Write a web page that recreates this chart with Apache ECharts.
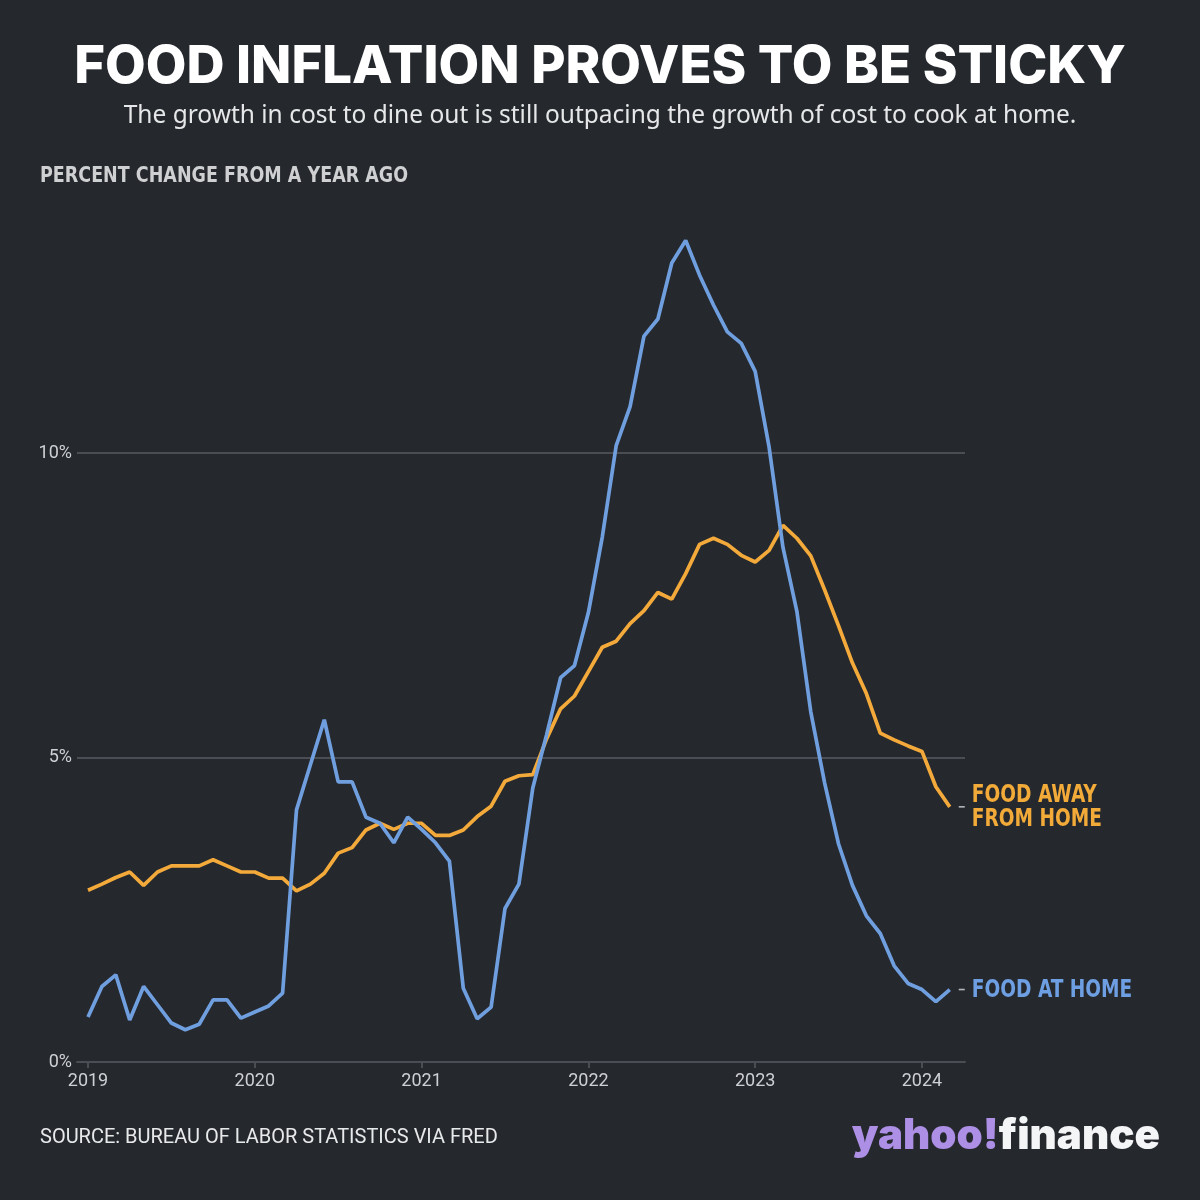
<!DOCTYPE html>
<html>
<head>
<meta charset="utf-8">
<script src="https://cdn.jsdelivr.net/npm/echarts@6/dist/echarts.min.js"></script>
<style>
  html, body { margin: 0; padding: 0; background: #25292e; }
  #chart { width: 1200px; height: 1200px; }
</style>
</head>
<body>
<div id="chart"></div>
<script>
// ---- Data (monthly, Jan 2019 – Mar 2024), percent change from a year ago ----
const startYear = 2019;
const monthCount = 63;
const yearTicks = [2019, 2020, 2021, 2022, 2023, 2024];

const foodAtHome = [
  0.74, 1.24, 1.43, 0.69, 1.24, 0.94, 0.64, 0.53, 0.62, 1.02, 1.02, 0.72,
  0.82, 0.92, 1.13, 4.14, 4.88, 5.62, 4.60, 4.60, 4.02, 3.92, 3.60, 4.02,
  3.82, 3.60, 3.30, 1.21, 0.71, 0.90, 2.52, 2.92, 4.50, 5.38, 6.31, 6.51,
  7.38, 8.62, 10.12, 10.76, 11.92, 12.20, 13.12, 13.49, 12.92, 12.43, 11.99, 11.80,
  11.34, 10.10, 8.45, 7.40, 5.75, 4.58, 3.58, 2.90, 2.40, 2.11, 1.58, 1.29,
  1.19, 0.99, 1.19
];
const foodAwayFromHome = [
  2.82, 2.92, 3.03, 3.12, 2.90, 3.12, 3.22, 3.22, 3.22, 3.32, 3.22, 3.12,
  3.12, 3.02, 3.02, 2.81, 2.92, 3.10, 3.43, 3.52, 3.81, 3.92, 3.82, 3.92,
  3.92, 3.72, 3.72, 3.81, 4.03, 4.20, 4.61, 4.70, 4.72, 5.31, 5.80, 6.01,
  6.41, 6.81, 6.91, 7.20, 7.41, 7.71, 7.60, 8.02, 8.50, 8.60, 8.50, 8.32,
  8.21, 8.40, 8.81, 8.60, 8.31, 7.75, 7.16, 6.55, 6.05, 5.40, 5.29, 5.19,
  5.10, 4.52, 4.19
];
const seriesLabels = ['FOOD AWAY\nFROM HOME', 'FOOD AT HOME'];

// month positions in decimal years (Jan of each year sits on the year tick)
const months = [];
for (let i = 0; i < monthCount; i++) {
  months.push(startYear + Math.floor(i / 12) + (i % 12) / 12);
}
const pair = (vals) => vals.map((v, i) => [months[i], v]);

const bg = '#25292e';
const gridColor = '#4a4d53';
const orange = '#f4aa3b';
const blue = '#709fe0';
const condensed = "'Liberation Sans Narrow', 'DejaVu Sans Condensed', 'Roboto', sans-serif";

const chart = echarts.init(document.getElementById('chart'), null, { renderer: 'canvas' });
const lastIdx = monthCount - 1;

const dash = {
  symbol: 'rect', symbolSize: [6, 1.6], symbolOffset: [12, 0],
  itemStyle: { color: '#b5b7ba' }, label: { show: false }, silent: true
};

chart.setOption({
  backgroundColor: bg,
  animation: false,
  grid: { left: 77, right: 235, top: 148.5, bottom: 138, containLabel: false },
  xAxis: {
    type: 'value',
    min: 2018.934,
    max: 2024.258,
    axisLine: { show: true, lineStyle: { color: gridColor, width: 2 } },
    axisTick: { show: true, customValues: yearTicks, length: 6, lineStyle: { color: gridColor, width: 2 } },
    axisLabel: {
      customValues: yearTicks,
      formatter: (v) => String(Math.round(v)),
      color: '#cfd0d3', fontSize: 18, fontFamily: 'Roboto', fontWeight: 400, margin: 10
    },
    splitLine: { show: false }
  },
  yAxis: {
    type: 'value',
    min: 0, max: 15, interval: 5,
    axisLine: { show: false },
    axisTick: { show: false },
    axisLabel: {
      formatter: '{value}%', showMaxLabel: false,
      color: '#cfd0d3', fontSize: 18, fontFamily: 'Roboto', fontWeight: 400, margin: 5
    },
    splitLine: { show: true, lineStyle: { color: [gridColor, gridColor, gridColor, 'rgba(0,0,0,0)'], width: 2 } }
  },
  series: [
    {
      name: 'Food away from home',
      type: 'line',
      data: pair(foodAwayFromHome),
      showSymbol: false,
      lineStyle: { color: orange, width: 3.7 },
      itemStyle: { color: orange },
      z: 2,
      markPoint: Object.assign({ data: [{ coord: [months[lastIdx], foodAwayFromHome[lastIdx]] }] }, dash)
    },
    {
      name: 'Food at home',
      type: 'line',
      data: pair(foodAtHome),
      showSymbol: false,
      lineStyle: { color: blue, width: 3.7 },
      itemStyle: { color: blue },
      z: 3,
      markPoint: Object.assign({ data: [{ coord: [months[lastIdx], foodAtHome[lastIdx]] }] }, dash)
    }
  ]
});

// end-of-line labels placed through the chart's own scales
const pAway = chart.convertToPixel({ gridIndex: 0 }, [months[lastIdx], foodAwayFromHome[lastIdx]]);
const pHome = chart.convertToPixel({ gridIndex: 0 }, [months[lastIdx], foodAtHome[lastIdx]]);
const labelFont = "bold 24px " + condensed;

chart.setOption({
  graphic: [
    {
      type: 'text', x: 600, y: 67,
      style: {
        text: 'FOOD INFLATION PROVES TO BE STICKY',
        fill: '#ffffff', font: "800 52.7px Inter, 'Noto Sans', sans-serif",
        align: 'center', verticalAlign: 'middle'
      }
    },
    {
      type: 'text', x: 600, y: 116,
      style: {
        text: 'The growth in cost to dine out is still outpacing the growth of cost to cook at home.',
        fill: '#e6e7e8', font: "400 24.5px 'Noto Sans', 'Open Sans', sans-serif",
        align: 'center', verticalAlign: 'middle'
      }
    },
    {
      type: 'text', x: 40, y: 176, scaleX: 0.885,
      style: {
        text: 'PERCENT CHANGE FROM A YEAR AGO',
        fill: '#cfd0d2', font: "bold 22px " + condensed,
        align: 'left', verticalAlign: 'middle'
      }
    },
    {
      type: 'text', x: pAway[0] + 22, y: pAway[1] + 1, scaleX: 0.86,
      style: {
        text: seriesLabels[0], fill: '#f2aa39', font: labelFont, lineHeight: 24,
        align: 'left', verticalAlign: 'middle'
      }
    },
    {
      type: 'text', x: pHome[0] + 22, y: pHome[1] + 1, scaleX: 0.86,
      style: {
        text: seriesLabels[1], fill: '#6e9fe3', font: labelFont,
        align: 'left', verticalAlign: 'middle'
      }
    },
    {
      type: 'text', x: 40, y: 1138,
      style: {
        text: 'SOURCE: BUREAU OF LABOR STATISTICS VIA FRED',
        fill: '#e8e9ea', font: "400 20px Roboto, sans-serif",
        align: 'left', verticalAlign: 'middle'
      }
    },
    {
      type: 'text', x: 1160, y: 1136,
      style: {
        text: '{a|yahoo!}{b|finance}',
        align: 'right', verticalAlign: 'middle',
        rich: {
          a: { fill: '#ad8fe6', font: "900 42px Inter, Lato, sans-serif" },
          b: { fill: '#f4f5f6', font: "900 42px Inter, Lato, sans-serif" }
        }
      }
    }
  ]
});
</script>
</body>
</html>
